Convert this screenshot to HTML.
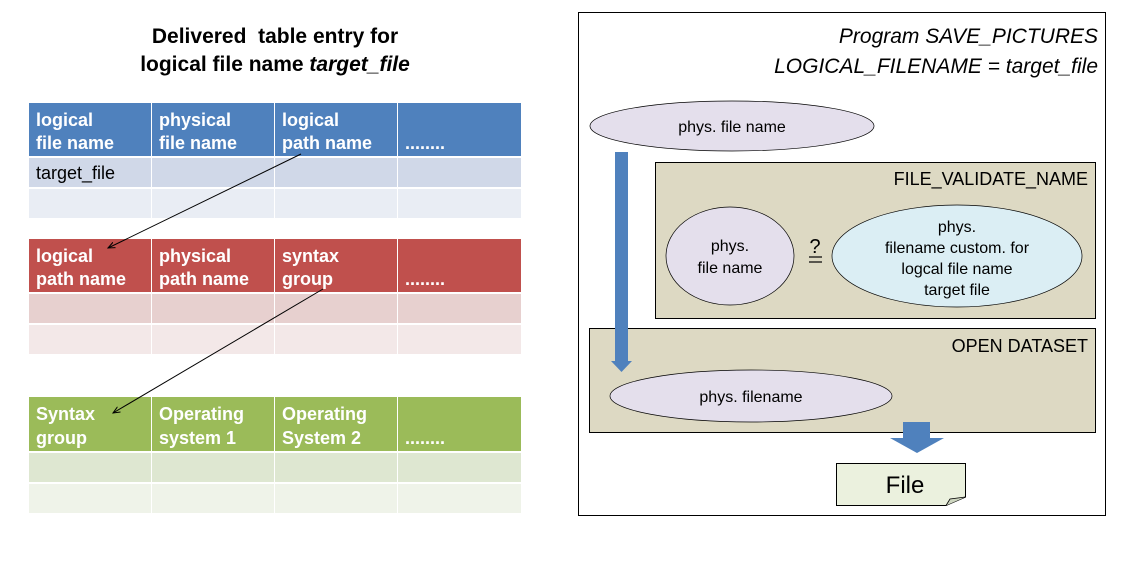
<!DOCTYPE html>
<html><head><style>
body{margin:0;background:#fff;}
svg text{font-family:"Liberation Sans",Arial,sans-serif;}
</style></head><body>
<svg width="1134" height="567" xmlns="http://www.w3.org/2000/svg">
<defs><marker id="ah" markerWidth="8" markerHeight="8" refX="7" refY="4" orient="auto" markerUnits="userSpaceOnUse"><path d="M0,1 L7,4 L0,7" fill="none" stroke="#000" stroke-width="1"/></marker></defs>
<text x="275" y="43" font-size="21" font-weight="bold" text-anchor="middle" xml:space="preserve">Delivered  table entry for</text>
<text x="275" y="71" font-size="21" font-weight="bold" text-anchor="middle">logical file name <tspan font-style="italic">target_file</tspan></text>
<g>
<rect x="29" y="103" width="122" height="53" fill="#4f81bd"/><rect x="152" y="103" width="122" height="53" fill="#4f81bd"/><rect x="275" y="103" width="122" height="53" fill="#4f81bd"/><rect x="398" y="103" width="123" height="53" fill="#4f81bd"/>
<rect x="29" y="158" width="122" height="29" fill="#d0d8e8"/><rect x="152" y="158" width="122" height="29" fill="#d0d8e8"/><rect x="275" y="158" width="122" height="29" fill="#d0d8e8"/><rect x="398" y="158" width="123" height="29" fill="#d0d8e8"/>
<rect x="29" y="189" width="122" height="29" fill="#e9edf4"/><rect x="152" y="189" width="122" height="29" fill="#e9edf4"/><rect x="275" y="189" width="122" height="29" fill="#e9edf4"/><rect x="398" y="189" width="123" height="29" fill="#e9edf4"/>
<rect x="29" y="239" width="122" height="53" fill="#c0504d"/><rect x="152" y="239" width="122" height="53" fill="#c0504d"/><rect x="275" y="239" width="122" height="53" fill="#c0504d"/><rect x="398" y="239" width="123" height="53" fill="#c0504d"/>
<rect x="29" y="294" width="122" height="29" fill="#e7d0cf"/><rect x="152" y="294" width="122" height="29" fill="#e7d0cf"/><rect x="275" y="294" width="122" height="29" fill="#e7d0cf"/><rect x="398" y="294" width="123" height="29" fill="#e7d0cf"/>
<rect x="29" y="325" width="122" height="29" fill="#f3e8e8"/><rect x="152" y="325" width="122" height="29" fill="#f3e8e8"/><rect x="275" y="325" width="122" height="29" fill="#f3e8e8"/><rect x="398" y="325" width="123" height="29" fill="#f3e8e8"/>
<rect x="29" y="397" width="122" height="54" fill="#9bbb59"/><rect x="152" y="397" width="122" height="54" fill="#9bbb59"/><rect x="275" y="397" width="122" height="54" fill="#9bbb59"/><rect x="398" y="397" width="123" height="54" fill="#9bbb59"/>
<rect x="29" y="453" width="122" height="29" fill="#dee7d1"/><rect x="152" y="453" width="122" height="29" fill="#dee7d1"/><rect x="275" y="453" width="122" height="29" fill="#dee7d1"/><rect x="398" y="453" width="123" height="29" fill="#dee7d1"/>
<rect x="29" y="484" width="122" height="29" fill="#eff3e9"/><rect x="152" y="484" width="122" height="29" fill="#eff3e9"/><rect x="275" y="484" width="122" height="29" fill="#eff3e9"/><rect x="398" y="484" width="123" height="29" fill="#eff3e9"/>
</g>
<g font-size="18" font-weight="bold" fill="#fff">
<text x="36" y="126">logical</text><text x="36" y="149">file name</text>
<text x="159" y="126">physical</text><text x="159" y="149">file name</text>
<text x="282" y="126">logical</text><text x="282" y="149">path name</text>
<text x="405" y="149">........</text>
<text x="36" y="262">logical</text><text x="36" y="285">path name</text>
<text x="159" y="262">physical</text><text x="159" y="285">path name</text>
<text x="282" y="262">syntax</text><text x="282" y="285">group</text>
<text x="405" y="285">........</text>
<text x="36" y="420">Syntax</text><text x="36" y="444">group</text>
<text x="159" y="420">Operating</text><text x="159" y="444">system 1</text>
<text x="282" y="420">Operating</text><text x="282" y="444">System 2</text>
<text x="405" y="444">........</text>
</g>
<text x="36" y="179" font-size="18">target_file</text>
<line x1="301" y1="154" x2="108" y2="248" stroke="#000" stroke-width="1" marker-end="url(#ah)"/>
<line x1="323" y1="289" x2="113" y2="413" stroke="#000" stroke-width="1" marker-end="url(#ah)"/>
<rect x="578.5" y="12.5" width="527" height="503" fill="#fff" stroke="#000"/>
<text x="1098" y="43" font-size="21" font-style="italic" text-anchor="end">Program SAVE_PICTURES</text>
<text x="1098" y="73" font-size="21" font-style="italic" text-anchor="end">LOGICAL_FILENAME = target_file</text>
<ellipse cx="732" cy="126" rx="142" ry="25" fill="#e4dfec" stroke="#000" stroke-width="0.7"/>
<text x="732" y="132" font-size="16" text-anchor="middle">phys. file name</text>
<rect x="655.5" y="162.5" width="440" height="156" fill="#ddd9c3" stroke="#000"/>
<rect x="589.5" y="328.5" width="506" height="104" fill="#ddd9c3" stroke="#000"/>
<rect x="615" y="152" width="13" height="210" fill="#4f81bd"/>
<polygon points="611,361 632,361 621.5,372" fill="#4f81bd"/>
<text x="1088" y="185" font-size="18" text-anchor="end">FILE_VALIDATE_NAME</text>
<ellipse cx="730" cy="256" rx="64" ry="49" fill="#e4dfec" stroke="#000" stroke-width="0.7"/>
<text x="730" y="251" font-size="16" text-anchor="middle">phys.</text>
<text x="730" y="273" font-size="16" text-anchor="middle">file name</text>
<text x="815" y="253" font-size="20" text-anchor="middle">?</text>
<line x1="809" y1="257" x2="822" y2="257" stroke="#000" stroke-width="1.2"/>
<line x1="809" y1="262" x2="822" y2="262" stroke="#000" stroke-width="1.2"/>
<ellipse cx="957" cy="256" rx="125" ry="51" fill="#dbeef4" stroke="#000" stroke-width="0.7"/>
<text x="957" y="232" font-size="16" text-anchor="middle">phys.</text>
<text x="957" y="253" font-size="16" text-anchor="middle">filename custom. for</text>
<text x="957" y="274" font-size="16" text-anchor="middle">logcal file name</text>
<text x="957" y="295" font-size="16" text-anchor="middle">target file</text>
<text x="1088" y="352" font-size="18" text-anchor="end">OPEN DATASET</text>
<ellipse cx="751" cy="396" rx="141" ry="26" fill="#e4dfec" stroke="#000" stroke-width="0.7"/>
<text x="751" y="402" font-size="16" text-anchor="middle">phys. filename</text>
<rect x="903" y="422" width="27" height="16" fill="#4f81bd"/>
<polygon points="890,438 944,438 917,453" fill="#4f81bd"/>
<path d="M836.5,463.5 H965.5 V497 L946,505.5 H836.5 Z" fill="#ebf1de" stroke="#000"/>
<path d="M946,505.5 L950,499 L965.5,497" fill="#cdd5bf" stroke="#000" stroke-width="0.8"/>
<text x="905" y="493" font-size="24" text-anchor="middle">File</text>
</svg>
</body></html>
